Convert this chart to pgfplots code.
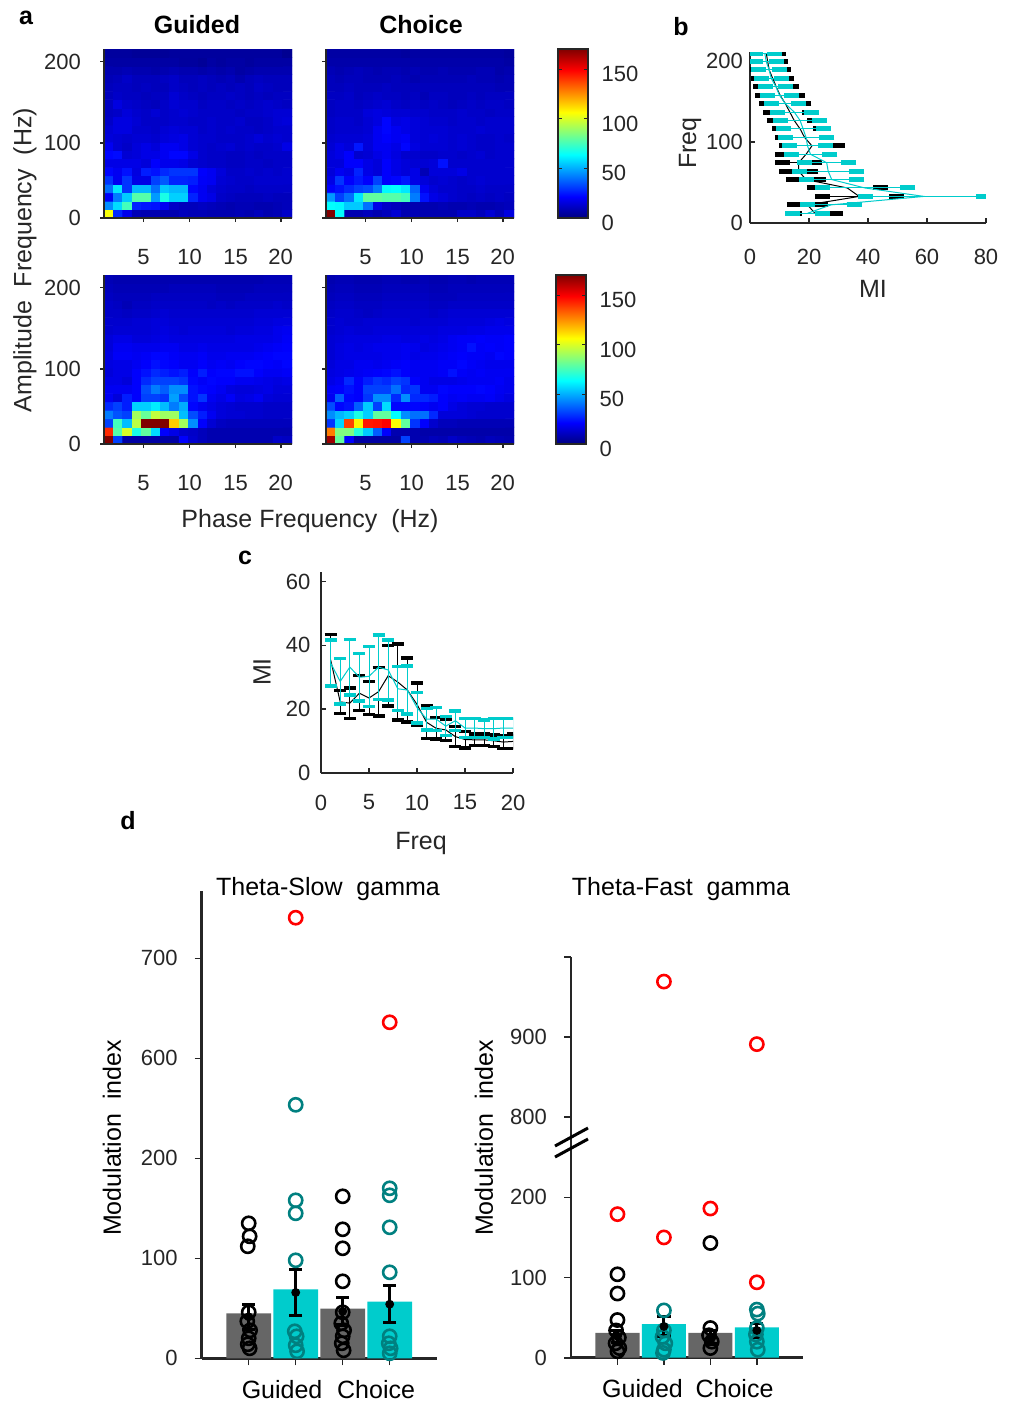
\documentclass[border=0pt]{standalone}
\usepackage{pgfplots}
\pgfplotsset{compat=1.18}
\usepackage{fontspec}
\setmainfont{Liberation Sans}

\definecolor{axc}{HTML}{262626}
\definecolor{cy}{HTML}{00CCCC}
\definecolor{tl}{HTML}{008080}
\definecolor{gbar}{HTML}{666666}

\newcommand{\tickfont}{\fontsize{11}{13}\selectfont}
\newcommand{\labfont}{\fontsize{12.5}{15}\selectfont}

\pgfplotsset{
  /pgf/number format/assume math mode=true,
  tick label style={font=\tickfont, text=axc},
  mlab/.style={
    scale only axis,
    axis x line*=bottom, axis y line*=left,
    axis line style={line width=1.4pt, draw=axc},
    tick style={draw=axc, line width=0.8pt},
    major tick length=2.5pt,
  },
  hm/.style={
    mlab, width=94pt, height=84.5pt,
    xmin=0.5, xmax=20.5, ymin=0.5, ymax=20.5,
    xtick={4.7,9.6,14.5,19.3}, xticklabels={5,10,15,20},
    ytick={0.5,9.4,19}, yticklabels={0,100,200},
    tick align=outside, major tick length=2pt,
    colormap/jet, point meta min=0, point meta max=170,
    axis on top,
    xticklabel style={yshift=-10pt},
    yticklabel style={xshift=-6pt},
  },
  cbar/.style={
    colorbar,
    colorbar style={
      at={(parent axis.north east)}, anchor=north west,
      xshift=#1, width=15pt, scale only axis,
      ytick={0,50,100,150},
      axis line style={line width=1pt, draw=axc},
      tick style={draw=axc},
      major tick length=2pt,
      yticklabel style={xshift=3.3pt, yshift=-2.5pt},
    },
  },
  barax/.style={
    mlab, xmin=0, xmax=5, ymin=0,
    tick align=outside, major tick length=3.5pt,
    xtick={1,2,3,4}, xticklabels={},
    extra x tick style={major tick length=0pt,
      tick label style={font=\labfont, text=black, yshift=-7.5pt}},
    yticklabel style={xshift=-5pt},
    clip=false,
  },
}

\begin{document}
\begin{tikzpicture}
\path[use as bounding box] (0,0) rectangle (504pt,-701.5pt);

% ---------------- panel a, Guided, top
\begin{axis}[hm, at={(52pt,-109pt)}, anchor=south west]
\addplot[matrix plot*, mesh/cols=20, point meta=explicit] coordinates {
(1,1) [105] (2,1) [28] (3,1) [18] (4,1) [9] (5,1) [8] (6,1) [8] (7,1) [8] (8,1) [8] (9,1) [10] (10,1) [9] (11,1) [9] (12,1) [8] (13,1) [8] (14,1) [8] (15,1) [9] (16,1) [8] (17,1) [10] (18,1) [8] (19,1) [9] (20,1) [12]
(1,2) [45] (2,2) [58] (3,2) [75] (4,2) [27] (5,2) [25] (6,2) [24] (7,2) [19] (8,2) [12] (9,2) [10] (10,2) [10] (11,2) [11] (12,2) [10] (13,2) [9] (14,2) [8] (15,2) [9] (16,2) [9] (17,2) [8] (18,2) [8] (19,2) [9] (20,2) [10]
(1,3) [20] (2,3) [42] (3,3) [55] (4,3) [78] (5,3) [78] (6,3) [47] (7,3) [68] (8,3) [56] (9,3) [56] (10,3) [27] (11,3) [19] (12,3) [17] (13,3) [12] (14,3) [11] (15,3) [10] (16,3) [10] (17,3) [10] (18,3) [11] (19,3) [10] (20,3) [10]
(1,4) [40] (2,4) [60] (3,4) [30] (4,4) [52] (5,4) [52] (6,4) [40] (7,4) [55] (8,4) [52] (9,4) [52] (10,4) [22] (11,4) [19] (12,4) [15] (13,4) [13] (14,4) [12] (15,4) [12] (16,4) [11] (17,4) [12] (18,4) [12] (19,4) [12] (20,4) [12]
(1,5) [30] (2,5) [19] (3,5) [30] (4,5) [17] (5,5) [17] (6,5) [32] (7,5) [36] (8,5) [27] (9,5) [27] (10,5) [26] (11,5) [20] (12,5) [19] (13,5) [14] (14,5) [13] (15,5) [12] (16,5) [12] (17,5) [13] (18,5) [13] (19,5) [13] (20,5) [13]
(1,6) [22] (2,6) [19] (3,6) [24] (4,6) [16] (5,6) [26] (6,6) [24] (7,6) [28] (8,6) [30] (9,6) [30] (10,6) [30] (11,6) [21] (12,6) [19] (13,6) [15] (14,6) [12] (15,6) [12] (16,6) [13] (17,6) [12] (18,6) [13] (19,6) [12] (20,6) [13]
(1,7) [17] (2,7) [17] (3,7) [17] (4,7) [17] (5,7) [15] (6,7) [21] (7,7) [18] (8,7) [18] (9,7) [17] (10,7) [14] (11,7) [13] (12,7) [12] (13,7) [12] (14,7) [11] (15,7) [11] (16,7) [12] (17,7) [12] (18,7) [11] (19,7) [12] (20,7) [12]
(1,8) [22] (2,8) [23] (3,8) [14] (4,8) [15] (5,8) [17] (6,8) [17] (7,8) [19] (8,8) [22] (9,8) [22] (10,8) [17] (11,8) [13] (12,8) [12] (13,8) [12] (14,8) [11] (15,8) [11] (16,8) [12] (17,8) [11] (18,8) [12] (19,8) [12] (20,8) [12]
(1,9) [19] (2,9) [14] (3,9) [12] (4,9) [15] (5,9) [17] (6,9) [15] (7,9) [19] (8,9) [19] (9,9) [17] (10,9) [14] (11,9) [13] (12,9) [12] (13,9) [13] (14,9) [14] (15,9) [12] (16,9) [13] (17,9) [12] (18,9) [12] (19,9) [13] (20,9) [17]
(1,10) [15] (2,10) [14] (3,10) [13] (4,10) [14] (5,10) [14] (6,10) [13] (7,10) [15] (8,10) [16] (9,10) [17] (10,10) [14] (11,10) [13] (12,10) [13] (13,10) [12] (14,10) [12] (15,10) [12] (16,10) [13] (17,10) [15] (18,10) [13] (19,10) [14] (20,10) [13]
(1,11) [14] (2,11) [16] (3,11) [16] (4,11) [13] (5,11) [13] (6,11) [12] (7,11) [14] (8,11) [15] (9,11) [14] (10,11) [14] (11,11) [12] (12,11) [13] (13,11) [12] (14,11) [13] (15,11) [12] (16,11) [12] (17,11) [11] (18,11) [12] (19,11) [13] (20,11) [13]
(1,12) [12] (2,12) [16] (3,12) [16] (4,12) [14] (5,12) [12] (6,12) [12] (7,12) [12] (8,12) [13] (9,12) [13] (10,12) [12] (11,12) [12] (12,12) [13] (13,12) [12] (14,12) [12] (15,12) [13] (16,12) [11] (17,12) [11] (18,12) [12] (19,12) [14] (20,12) [15]
(1,13) [11] (2,13) [12] (3,13) [15] (4,13) [13] (5,13) [12] (6,13) [14] (7,13) [12] (8,13) [13] (9,13) [14] (10,13) [13] (11,13) [12] (12,13) [12] (13,13) [12] (14,13) [12] (15,13) [11] (16,13) [12] (17,13) [12] (18,13) [13] (19,13) [14] (20,13) [14]
(1,14) [11] (2,14) [16] (3,14) [13] (4,14) [12] (5,14) [11] (6,14) [10] (7,14) [12] (8,14) [14] (9,14) [13] (10,14) [13] (11,14) [11] (12,14) [12] (13,14) [12] (14,14) [11] (15,14) [12] (16,14) [11] (17,14) [12] (18,14) [13] (19,14) [12] (20,14) [11]
(1,15) [10] (2,15) [12] (3,15) [11] (4,15) [11] (5,15) [10] (6,15) [11] (7,15) [11] (8,15) [14] (9,15) [12] (10,15) [11] (11,15) [10] (12,15) [11] (13,15) [11] (14,15) [12] (15,15) [11] (16,15) [10] (17,15) [11] (18,15) [10] (19,15) [11] (20,15) [11]
(1,16) [10] (2,16) [11] (3,16) [11] (4,16) [10] (5,16) [11] (6,16) [10] (7,16) [10] (8,16) [12] (9,16) [11] (10,16) [10] (11,16) [11] (12,16) [10] (13,16) [11] (14,16) [10] (15,16) [11] (16,16) [10] (17,16) [12] (18,16) [11] (19,16) [10] (20,16) [10]
(1,17) [9] (2,17) [10] (3,17) [12] (4,17) [10] (5,17) [10] (6,17) [10] (7,17) [11] (8,17) [12] (9,17) [10] (10,17) [10] (11,17) [11] (12,17) [10] (13,17) [9] (14,17) [10] (15,17) [8] (16,17) [10] (17,17) [11] (18,17) [10] (19,17) [10] (20,17) [10]
(1,18) [8] (2,18) [8] (3,18) [9] (4,18) [8] (5,18) [8] (6,18) [7] (7,18) [8] (8,18) [9] (9,18) [8] (10,18) [8] (11,18) [7] (12,18) [8] (13,18) [7] (14,18) [8] (15,18) [6] (16,18) [7] (17,18) [8] (18,18) [8] (19,18) [8] (20,18) [8]
(1,19) [6] (2,19) [6] (3,19) [6] (4,19) [6] (5,19) [6] (6,19) [6] (7,19) [6] (8,19) [6] (9,19) [5] (10,19) [5] (11,19) [4] (12,19) [6] (13,19) [5] (14,19) [6] (15,19) [6] (16,19) [5] (17,19) [6] (18,19) [6] (19,19) [6] (20,19) [6]
(1,20) [5] (2,20) [5] (3,20) [5] (4,20) [4] (5,20) [4] (6,20) [4] (7,20) [4] (8,20) [5] (9,20) [5] (10,20) [5] (11,20) [5] (12,20) [5] (13,20) [5] (14,20) [5] (15,20) [5] (16,20) [5] (17,20) [5] (18,20) [5] (19,20) [5] (20,20) [3]
};
\end{axis}

% ---------------- panel a, Choice, top
\begin{axis}[hm, cbar=13.5pt, yticklabels={}, at={(163pt,-109pt)}, anchor=south west]
\addplot[matrix plot*, mesh/cols=20, point meta=explicit] coordinates {
(1,1) [170] (2,1) [64] (3,1) [8] (4,1) [8] (5,1) [10] (6,1) [8] (7,1) [10] (8,1) [14] (9,1) [8] (10,1) [9] (11,1) [8] (12,1) [8] (13,1) [8] (14,1) [8] (15,1) [12] (16,1) [12] (17,1) [10] (18,1) [14] (19,1) [10] (20,1) [16]
(1,2) [64] (2,2) [63] (3,2) [55] (4,2) [55] (5,2) [40] (6,2) [17] (7,2) [12] (8,2) [10] (9,2) [8] (10,2) [8] (11,2) [8] (12,2) [8] (13,2) [9] (14,2) [8] (15,2) [8] (16,2) [9] (17,2) [8] (18,2) [8] (19,2) [9] (20,2) [10]
(1,3) [47] (2,3) [32] (3,3) [40] (4,3) [60] (5,3) [80] (6,3) [80] (7,3) [78] (8,3) [78] (9,3) [75] (10,3) [42] (11,3) [24] (12,3) [17] (13,3) [15] (14,3) [13] (15,3) [12] (16,3) [11] (17,3) [12] (18,3) [11] (19,3) [12] (20,3) [11]
(1,4) [21] (2,4) [24] (3,4) [28] (4,4) [32] (5,4) [34] (6,4) [42] (7,4) [63] (8,4) [64] (9,4) [60] (10,4) [38] (11,4) [19] (12,4) [15] (13,4) [13] (14,4) [13] (15,4) [12] (16,4) [12] (17,4) [13] (18,4) [12] (19,4) [12] (20,4) [12]
(1,5) [17] (2,5) [30] (3,5) [21] (4,5) [25] (5,5) [21] (6,5) [32] (7,5) [21] (8,5) [22] (9,5) [25] (10,5) [17] (11,5) [15] (12,5) [13] (13,5) [14] (14,5) [13] (15,5) [12] (16,5) [13] (17,5) [14] (18,5) [13] (19,5) [13] (20,5) [13]
(1,6) [15] (2,6) [19] (3,6) [17] (4,6) [27] (5,6) [17] (6,6) [15] (7,6) [21] (8,6) [17] (9,6) [15] (10,6) [17] (11,6) [9] (12,6) [15] (13,6) [15] (14,6) [15] (15,6) [17] (16,6) [13] (17,6) [13] (18,6) [13] (19,6) [13] (20,6) [13]
(1,7) [15] (2,7) [15] (3,7) [21] (4,7) [21] (5,7) [17] (6,7) [15] (7,7) [21] (8,7) [17] (9,7) [15] (10,7) [14] (11,7) [14] (12,7) [15] (13,7) [24] (14,7) [13] (15,7) [13] (16,7) [13] (17,7) [13] (18,7) [13] (19,7) [13] (20,7) [13]
(1,8) [15] (2,8) [17] (3,8) [21] (4,8) [13] (5,8) [14] (6,8) [17] (7,8) [19] (8,8) [16] (9,8) [13] (10,8) [13] (11,8) [12] (12,8) [12] (13,8) [13] (14,8) [13] (15,8) [12] (16,8) [13] (17,8) [14] (18,8) [12] (19,8) [13] (20,8) [13]
(1,9) [14] (2,9) [17] (3,9) [15] (4,9) [25] (5,9) [15] (6,9) [19] (7,9) [19] (8,9) [17] (9,9) [22] (10,9) [16] (11,9) [14] (12,9) [14] (13,9) [14] (14,9) [13] (15,9) [14] (16,9) [13] (17,9) [12] (18,9) [12] (19,9) [13] (20,9) [13]
(1,10) [13] (2,10) [14] (3,10) [14] (4,10) [14] (5,10) [15] (6,10) [19] (7,10) [21] (8,10) [19] (9,10) [20] (10,10) [15] (11,10) [14] (12,10) [15] (13,10) [14] (14,10) [13] (15,10) [14] (16,10) [13] (17,10) [12] (18,10) [12] (19,10) [13] (20,10) [12]
(1,11) [12] (2,11) [13] (3,11) [13] (4,11) [13] (5,11) [14] (6,11) [19] (7,11) [22] (8,11) [19] (9,11) [17] (10,11) [15] (11,11) [14] (12,11) [14] (13,11) [14] (14,11) [13] (15,11) [13] (16,11) [13] (17,11) [14] (18,11) [13] (19,11) [13] (20,11) [13]
(1,12) [12] (2,12) [13] (3,12) [13] (4,12) [12] (5,12) [14] (6,12) [16] (7,12) [22] (8,12) [16] (9,12) [17] (10,12) [15] (11,12) [14] (12,12) [13] (13,12) [13] (14,12) [12] (15,12) [13] (16,12) [13] (17,12) [12] (18,12) [13] (19,12) [13] (20,12) [13]
(1,13) [11] (2,13) [12] (3,13) [12] (4,13) [12] (5,13) [15] (6,13) [16] (7,13) [15] (8,13) [14] (9,13) [14] (10,13) [13] (11,13) [13] (12,13) [12] (13,13) [12] (14,13) [12] (15,13) [13] (16,13) [12] (17,13) [12] (18,13) [11] (19,13) [12] (20,13) [12]
(1,14) [11] (2,14) [12] (3,14) [12] (4,14) [11] (5,14) [12] (6,14) [13] (7,14) [14] (8,14) [12] (9,14) [11] (10,14) [12] (11,14) [11] (12,14) [12] (13,14) [11] (14,14) [10] (15,14) [11] (16,14) [12] (17,14) [11] (18,14) [12] (19,14) [12] (20,14) [11]
(1,15) [11] (2,15) [11] (3,15) [12] (4,15) [10] (5,15) [11] (6,15) [12] (7,15) [11] (8,15) [11] (9,15) [10] (10,15) [11] (11,15) [9] (12,15) [11] (13,15) [11] (14,15) [10] (15,15) [10] (16,15) [11] (17,15) [10] (18,15) [11] (19,15) [11] (20,15) [11]
(1,16) [10] (2,16) [10] (3,16) [11] (4,16) [10] (5,16) [10] (6,16) [10] (7,16) [11] (8,16) [10] (9,16) [10] (10,16) [10] (11,16) [10] (12,16) [10] (13,16) [10] (14,16) [10] (15,16) [10] (16,16) [10] (17,16) [10] (18,16) [10] (19,16) [9] (20,16) [9]
(1,17) [10] (2,17) [9] (3,17) [10] (4,17) [10] (5,17) [9] (6,17) [9] (7,17) [9] (8,17) [10] (9,17) [9] (10,17) [8] (11,17) [9] (12,17) [9] (13,17) [9] (14,17) [9] (15,17) [9] (16,17) [10] (17,17) [9] (18,17) [9] (19,17) [8] (20,17) [9]
(1,18) [9] (2,18) [8] (3,18) [9] (4,18) [10] (5,18) [9] (6,18) [8] (7,18) [9] (8,18) [9] (9,18) [8] (10,18) [9] (11,18) [8] (12,18) [8] (13,18) [9] (14,18) [8] (15,18) [8] (16,18) [8] (17,18) [9] (18,18) [9] (19,18) [7] (20,18) [8]
(1,19) [7] (2,19) [7] (3,19) [7] (4,19) [7] (5,19) [7] (6,19) [7] (7,19) [7] (8,19) [7] (9,19) [7] (10,19) [7] (11,19) [7] (12,19) [7] (13,19) [7] (14,19) [7] (15,19) [7] (16,19) [7] (17,19) [7] (18,19) [7] (19,19) [7] (20,19) [6]
(1,20) [6] (2,20) [6] (3,20) [6] (4,20) [6] (5,20) [6] (6,20) [6] (7,20) [6] (8,20) [6] (9,20) [5] (10,20) [6] (11,20) [6] (12,20) [6] (13,20) [6] (14,20) [6] (15,20) [6] (16,20) [6] (17,20) [6] (18,20) [6] (19,20) [6] (20,20) [5]
};
\end{axis}

% ---------------- panel a, Guided, bottom
\begin{axis}[hm, at={(52pt,-222pt)}, anchor=south west]
\addplot[matrix plot*, mesh/cols=20, point meta=explicit] coordinates {
(1,1) [170] (2,1) [32] (3,1) [6] (4,1) [6] (5,1) [6] (6,1) [6] (7,1) [6] (8,1) [6] (9,1) [21] (10,1) [13] (11,1) [10] (12,1) [8] (13,1) [8] (14,1) [8] (15,1) [8] (16,1) [8] (17,1) [8] (18,1) [8] (19,1) [12] (20,1) [11]
(1,2) [142] (2,2) [78] (3,2) [100] (4,2) [68] (5,2) [80] (6,2) [58] (7,2) [21] (8,2) [17] (9,2) [13] (10,2) [12] (11,2) [10] (12,2) [8] (13,2) [8] (14,2) [8] (15,2) [8] (16,2) [8] (17,2) [8] (18,2) [8] (19,2) [8] (20,2) [8]
(1,3) [32] (2,3) [75] (3,3) [53] (4,3) [95] (5,3) [170] (6,3) [170] (7,3) [170] (8,3) [115] (9,3) [91] (10,3) [45] (11,3) [21] (12,3) [14] (13,3) [11] (14,3) [10] (15,3) [10] (16,3) [10] (17,3) [10] (18,3) [10] (19,3) [10] (20,3) [10]
(1,4) [42] (2,4) [35] (3,4) [32] (4,4) [91] (5,4) [81] (6,4) [96] (7,4) [90] (8,4) [90] (9,4) [53] (10,4) [34] (11,4) [26] (12,4) [19] (13,4) [15] (14,4) [14] (15,4) [14] (16,4) [13] (17,4) [13] (18,4) [12] (19,4) [12] (20,4) [12]
(1,5) [28] (2,5) [32] (3,5) [26] (4,5) [56] (5,5) [56] (6,5) [61] (7,5) [53] (8,5) [42] (9,5) [50] (10,5) [22] (11,5) [19] (12,5) [17] (13,5) [15] (14,5) [14] (15,5) [13] (16,5) [13] (17,5) [13] (18,5) [12] (19,5) [12] (20,5) [12]
(1,6) [19] (2,6) [15] (3,6) [26] (4,6) [21] (5,6) [32] (6,6) [32] (7,6) [30] (8,6) [48] (9,6) [34] (10,6) [24] (11,6) [30] (12,6) [19] (13,6) [17] (14,6) [20] (15,6) [16] (16,6) [17] (17,6) [19] (18,6) [15] (19,6) [14] (20,6) [14]
(1,7) [19] (2,7) [19] (3,7) [19] (4,7) [21] (5,7) [34] (6,7) [42] (7,7) [37] (8,7) [45] (9,7) [45] (10,7) [24] (11,7) [22] (12,7) [21] (13,7) [19] (14,7) [16] (15,7) [15] (16,7) [15] (17,7) [16] (18,7) [17] (19,7) [15] (20,7) [15]
(1,8) [17] (2,8) [17] (3,8) [15] (4,8) [21] (5,8) [28] (6,8) [32] (7,8) [32] (8,8) [32] (9,8) [30] (10,8) [22] (11,8) [20] (12,8) [22] (13,8) [21] (14,8) [21] (15,8) [19] (16,8) [19] (17,8) [18] (18,8) [17] (19,8) [16] (20,8) [17]
(1,9) [15] (2,9) [17] (3,9) [17] (4,9) [21] (5,9) [24] (6,9) [28] (7,9) [26] (8,9) [24] (9,9) [26] (10,9) [21] (11,9) [26] (12,9) [21] (13,9) [22] (14,9) [22] (15,9) [24] (16,9) [24] (17,9) [21] (18,9) [19] (19,9) [19] (20,9) [20]
(1,10) [16] (2,10) [17] (3,10) [17] (4,10) [19] (5,10) [21] (6,10) [24] (7,10) [22] (8,10) [21] (9,10) [19] (10,10) [19] (11,10) [21] (12,10) [19] (13,10) [20] (14,10) [19] (15,10) [21] (16,10) [22] (17,10) [22] (18,10) [21] (19,10) [20] (20,10) [22]
(1,11) [16] (2,11) [20] (3,11) [20] (4,11) [19] (5,11) [20] (6,11) [22] (7,11) [22] (8,11) [20] (9,11) [19] (10,11) [19] (11,11) [20] (12,11) [18] (13,11) [18] (14,11) [19] (15,11) [19] (16,11) [19] (17,11) [20] (18,11) [21] (19,11) [22] (20,11) [22]
(1,12) [15] (2,12) [19] (3,12) [19] (4,12) [18] (5,12) [18] (6,12) [18] (7,12) [19] (8,12) [19] (9,12) [17] (10,12) [17] (11,12) [18] (12,12) [17] (13,12) [17] (14,12) [17] (15,12) [17] (16,12) [17] (17,12) [18] (18,12) [19] (19,12) [20] (20,12) [21]
(1,13) [15] (2,13) [17] (3,13) [17] (4,13) [15] (5,13) [15] (6,13) [16] (7,13) [17] (8,13) [16] (9,13) [16] (10,13) [16] (11,13) [16] (12,13) [16] (13,13) [16] (14,13) [16] (15,13) [17] (16,13) [17] (17,13) [17] (18,13) [17] (19,13) [18] (20,13) [20]
(1,14) [13] (2,14) [14] (3,14) [14] (4,14) [14] (5,14) [14] (6,14) [15] (7,14) [16] (8,14) [15] (9,14) [14] (10,14) [15] (11,14) [15] (12,14) [15] (13,14) [15] (14,14) [14] (15,14) [15] (16,14) [15] (17,14) [16] (18,14) [16] (19,14) [18] (20,14) [19]
(1,15) [13] (2,15) [13] (3,15) [13] (4,15) [14] (5,15) [14] (6,15) [15] (7,15) [15] (8,15) [14] (9,15) [14] (10,15) [14] (11,15) [14] (12,15) [14] (13,15) [14] (14,15) [14] (15,15) [14] (16,15) [14] (17,15) [15] (18,15) [15] (19,15) [16] (20,15) [16]
(1,16) [12] (2,16) [12] (3,16) [11] (4,16) [12] (5,16) [12] (6,16) [13] (7,16) [14] (8,16) [13] (9,16) [13] (10,16) [13] (11,16) [13] (12,16) [13] (13,16) [13] (14,16) [13] (15,16) [13] (16,16) [13] (17,16) [14] (18,16) [14] (19,16) [14] (20,16) [14]
(1,17) [12] (2,17) [11] (3,17) [9] (4,17) [11] (5,17) [11] (6,17) [12] (7,17) [12] (8,17) [12] (9,17) [12] (10,17) [12] (11,17) [12] (12,17) [11] (13,17) [12] (14,17) [11] (15,17) [12] (16,17) [12] (17,17) [12] (18,17) [12] (19,17) [13] (20,17) [12]
(1,18) [11] (2,18) [10] (3,18) [10] (4,18) [10] (5,18) [10] (6,18) [11] (7,18) [11] (8,18) [11] (9,18) [11] (10,18) [11] (11,18) [11] (12,18) [11] (13,18) [10] (14,18) [10] (15,18) [10] (16,18) [11] (17,18) [11] (18,18) [11] (19,18) [11] (20,18) [11]
(1,19) [10] (2,19) [9] (3,19) [9] (4,19) [9] (5,19) [9] (6,19) [9] (7,19) [9] (8,19) [10] (9,19) [10] (10,19) [10] (11,19) [10] (12,19) [10] (13,19) [9] (14,19) [9] (15,19) [9] (16,19) [9] (17,19) [10] (18,19) [10] (19,19) [10] (20,19) [10]
(1,20) [9] (2,20) [8] (3,20) [8] (4,20) [8] (5,20) [8] (6,20) [8] (7,20) [8] (8,20) [8] (9,20) [8] (10,20) [8] (11,20) [8] (12,20) [8] (13,20) [8] (14,20) [8] (15,20) [8] (16,20) [8] (17,20) [8] (18,20) [9] (19,20) [9] (20,20) [9]
};
\end{axis}

% ---------------- panel a, Choice, bottom
\begin{axis}[hm, cbar=12.5pt, yticklabels={}, at={(163pt,-222pt)}, anchor=south west]
\addplot[matrix plot*, mesh/cols=20, point meta=explicit] coordinates {
(1,1) [165] (2,1) [80] (3,1) [21] (4,1) [6] (5,1) [6] (6,1) [6] (7,1) [6] (8,1) [6] (9,1) [32] (10,1) [8] (11,1) [8] (12,1) [10] (13,1) [9] (14,1) [12] (15,1) [10] (16,1) [9] (17,1) [8] (18,1) [10] (19,1) [9] (20,1) [8]
(1,2) [128] (2,2) [85] (3,2) [85] (4,2) [70] (5,2) [55] (6,2) [37] (7,2) [21] (8,2) [8] (9,2) [8] (10,2) [8] (11,2) [7] (12,2) [7] (13,2) [7] (14,2) [7] (15,2) [7] (16,2) [7] (17,2) [7] (18,2) [7] (19,2) [7] (20,2) [7]
(1,3) [30] (2,3) [57] (3,3) [138] (4,3) [108] (5,3) [145] (6,3) [146] (7,3) [149] (8,3) [106] (9,3) [80] (10,3) [30] (11,3) [21] (12,3) [13] (13,3) [10] (14,3) [10] (15,3) [9] (16,3) [9] (17,3) [9] (18,3) [9] (19,3) [9] (20,3) [9]
(1,4) [45] (2,4) [52] (3,4) [56] (4,4) [68] (5,4) [56] (6,4) [80] (7,4) [80] (8,4) [64] (9,4) [45] (10,4) [40] (11,4) [40] (12,4) [28] (13,4) [15] (14,4) [15] (15,4) [15] (16,4) [14] (17,4) [13] (18,4) [13] (19,4) [13] (20,4) [13]
(1,5) [34] (2,5) [22] (3,5) [24] (4,5) [37] (5,5) [55] (6,5) [32] (7,5) [58] (8,5) [22] (9,5) [22] (10,5) [22] (11,5) [21] (12,5) [19] (13,5) [21] (14,5) [17] (15,5) [15] (16,5) [14] (17,5) [14] (18,5) [13] (19,5) [13] (20,5) [13]
(1,6) [19] (2,6) [37] (3,6) [22] (4,6) [21] (5,6) [30] (6,6) [45] (7,6) [45] (8,6) [28] (9,6) [45] (10,6) [28] (11,6) [28] (12,6) [26] (13,6) [21] (14,6) [19] (15,6) [20] (16,6) [19] (17,6) [19] (18,6) [20] (19,6) [18] (20,6) [16]
(1,7) [20] (2,7) [21] (3,7) [24] (4,7) [21] (5,7) [32] (6,7) [32] (7,7) [32] (8,7) [40] (9,7) [28] (10,7) [30] (11,7) [19] (12,7) [19] (13,7) [22] (14,7) [21] (15,7) [21] (16,7) [21] (17,7) [22] (18,7) [21] (19,7) [19] (20,7) [18]
(1,8) [17] (2,8) [19] (3,8) [28] (4,8) [21] (5,8) [26] (6,8) [30] (7,8) [28] (8,8) [32] (9,8) [30] (10,8) [21] (11,8) [19] (12,8) [17] (13,8) [17] (14,8) [17] (15,8) [18] (16,8) [19] (17,8) [19] (18,8) [19] (19,8) [20] (20,8) [18]
(1,9) [16] (2,9) [17] (3,9) [18] (4,9) [19] (5,9) [20] (6,9) [21] (7,9) [22] (8,9) [24] (9,9) [21] (10,9) [19] (11,9) [19] (12,9) [19] (13,9) [20] (14,9) [24] (15,9) [20] (16,9) [19] (17,9) [20] (18,9) [19] (19,9) [19] (20,9) [19]
(1,10) [15] (2,10) [17] (3,10) [17] (4,10) [19] (5,10) [19] (6,10) [18] (7,10) [19] (8,10) [20] (9,10) [21] (10,10) [19] (11,10) [19] (12,10) [19] (13,10) [20] (14,10) [20] (15,10) [22] (16,10) [20] (17,10) [19] (18,10) [18] (19,10) [18] (20,10) [18]
(1,11) [14] (2,11) [16] (3,11) [17] (4,11) [17] (5,11) [17] (6,11) [17] (7,11) [18] (8,11) [18] (9,11) [19] (10,11) [17] (11,11) [18] (12,11) [18] (13,11) [19] (14,11) [20] (15,11) [21] (16,11) [20] (17,11) [20] (18,11) [19] (19,11) [22] (20,11) [21]
(1,12) [14] (2,12) [16] (3,12) [17] (4,12) [16] (5,12) [17] (6,12) [18] (7,12) [18] (8,12) [18] (9,12) [19] (10,12) [18] (11,12) [16] (12,12) [17] (13,12) [18] (14,12) [19] (15,12) [20] (16,12) [24] (17,12) [20] (18,12) [21] (19,12) [20] (20,12) [21]
(1,13) [14] (2,13) [15] (3,13) [16] (4,13) [16] (5,13) [16] (6,13) [16] (7,13) [17] (8,13) [17] (9,13) [16] (10,13) [16] (11,13) [17] (12,13) [16] (13,13) [17] (14,13) [19] (15,13) [20] (16,13) [20] (17,13) [21] (18,13) [20] (19,13) [20] (20,13) [21]
(1,14) [13] (2,14) [14] (3,14) [15] (4,14) [14] (5,14) [14] (6,14) [15] (7,14) [15] (8,14) [15] (9,14) [15] (10,14) [15] (11,14) [15] (12,14) [15] (13,14) [16] (14,14) [16] (15,14) [16] (16,14) [17] (17,14) [17] (18,14) [18] (19,14) [18] (20,14) [18]
(1,15) [13] (2,15) [14] (3,15) [13] (4,15) [13] (5,15) [14] (6,15) [14] (7,15) [14] (8,15) [14] (9,15) [14] (10,15) [13] (11,15) [14] (12,15) [14] (13,15) [14] (14,15) [15] (15,15) [15] (16,15) [15] (17,15) [15] (18,15) [16] (19,15) [17] (20,15) [16]
(1,16) [12] (2,16) [13] (3,16) [13] (4,16) [12] (5,16) [11] (6,16) [12] (7,16) [13] (8,16) [13] (9,16) [13] (10,16) [13] (11,16) [13] (12,16) [12] (13,16) [13] (14,16) [14] (15,16) [14] (16,16) [14] (17,16) [14] (18,16) [14] (19,16) [14] (20,16) [14]
(1,17) [11] (2,17) [12] (3,17) [12] (4,17) [11] (5,17) [11] (6,17) [11] (7,17) [12] (8,17) [12] (9,17) [12] (10,17) [12] (11,17) [12] (12,17) [11] (13,17) [11] (14,17) [12] (15,17) [12] (16,17) [12] (17,17) [12] (18,17) [12] (19,17) [12] (20,17) [12]
(1,18) [10] (2,18) [11] (3,18) [11] (4,18) [10] (5,18) [10] (6,18) [10] (7,18) [11] (8,18) [11] (9,18) [11] (10,18) [11] (11,18) [11] (12,18) [10] (13,18) [10] (14,18) [10] (15,18) [11] (16,18) [11] (17,18) [11] (18,18) [11] (19,18) [11] (20,18) [11]
(1,19) [9] (2,19) [10] (3,19) [10] (4,19) [9] (5,19) [9] (6,19) [9] (7,19) [10] (8,19) [10] (9,19) [10] (10,19) [10] (11,19) [10] (12,19) [9] (13,19) [9] (14,19) [10] (15,19) [10] (16,19) [10] (17,19) [10] (18,19) [10] (19,19) [10] (20,19) [10]
(1,20) [8] (2,20) [9] (3,20) [9] (4,20) [8] (5,20) [8] (6,20) [8] (7,20) [9] (8,20) [9] (9,20) [8] (10,20) [8] (11,20) [9] (12,20) [8] (13,20) [8] (14,20) [9] (15,20) [9] (16,20) [8] (17,20) [9] (18,20) [9] (19,20) [9] (20,20) [9]
};
\end{axis}

% ---------------- panel b
\begin{axis}[mlab, at={(375pt,-111.5pt)}, anchor=south west,
  width=118pt, height=85.5pt,
  xmin=0, xmax=80, ymin=0, ymax=211,
  xtick={0,20,40,60,80}, ytick={0,100,200},
  xticklabel style={yshift=-9.3pt},
]
\addplot[black, line width=0.5pt,
  error bars/.cd, x dir=both, x explicit, error mark=-,
  error mark options={black, line width=2.5pt, mark size=3.75pt},
  error bar style={black, line width=0.5pt}]
coordinates {
(22,12) +- (7,0) (19.5,22.4) +- (4.5,0) (37,32.8) +- (12.5,0) (33,43.2) +- (11.3,0)
(19,53.6) +- (4.3,0) (16.5,64) +- (4.1,0) (16.5,74.4) +- (5.5,0) (19,84.8) +- (8,0)
(21,95.2) +- (8.5,0) (18.5,105.6) +- (7.5,0) (17,116) +- (7,0) (15,126.4) +- (6.8,0)
(13.5,136.8) +- (6.5,0) (12,147.2) +- (6.3,0) (10.2,157.6) +- (5.9,0) (8.9,168) +- (5.2,0)
(7.7,178.4) +- (4.8,0) (6.5,188.8) +- (4.8,0) (6,199.2) +- (4.3,0) (5.5,209.6) +- (4,0)
};
\addplot[cy, line width=0.5pt,
  error bars/.cd, x dir=both, x explicit, error mark=-,
  error mark options={cy, line width=2.5pt, mark size=3.75pt},
  error bar style={cy, line width=0.5pt}]
coordinates {
(19.5,12) +- (5,0) (27.5,22.4) +- (8,0) (59,32.8) +- (20,0) (39,43.2) +- (14.5,0)
(27.7,53.6) +- (8.5,0) (26.5,64) +- (9.7,0) (26,74.4) +- (7.5,0) (20.5,84.8) +- (6.5,0)
(19.5,95.2) +- (6,0) (19,105.6) +- (7,0) (18,116) +- (6.8,0) (17,126.4) +- (6.5,0)
(15,136.8) +- (5.8,0) (12,147.2) +- (4.6,0) (10,157.6) +- (4.2,0) (8.8,168) +- (3.4,0)
(7.2,178.4) +- (3.4,0) (6.5,188.8) +- (3.5,0) (5.5,199.2) +- (3.5,0) (5,209.6) +- (3.3,0)
};
\end{axis}

% ---------------- panel c
\begin{axis}[mlab, at={(160.5pt,-386.5pt)}, anchor=south west,
  width=96pt, height=100.5pt,
  xmin=0, xmax=20, ymin=0, ymax=63,
  xtick={0,5,10,15,20}, ytick={0,20,40,60},
  xticklabel style={yshift=-7.3pt},
  yticklabel style={xshift=-1.8pt},
]
\addplot[black, line width=0.5pt,
  error bars/.cd, y dir=both, y explicit, error mark=|,
  error mark options={black, line width=1.7pt, mark size=3pt},
  error bar style={black, line width=0.5pt}]
coordinates {
(1,35.5) +- (0,8) (2,22.3) +- (0,3.6) (3,21.9) +- (0,4.8) (4,25) +- (0,5.5)
(5,23.5) +- (0,5.1) (6,25.5) +- (0,7.6) (7,30.5) +- (0,9.5) (8,28.5) +- (0,11.9)
(9,26) +- (0,10) (10,21.5) +- (0,6.7) (11,15.9) +- (0,5.1) (12,14) +- (0,3.4)
(13,13.5) +- (0,3.4) (14,11.4) +- (0,3.1) (15,10.5) +- (0,2.6) (16,10.4) +- (0,1.8)
(17,10.4) +- (0,1.8) (18,10.1) +- (0,1.8) (19,9.7) +- (0,2.1) (20,9.9) +- (0,2.3)
};
\addplot[cy, line width=0.5pt,
  error bars/.cd, y dir=both, y explicit, error mark=|,
  error mark options={cy, line width=1.7pt, mark size=3pt},
  error bar style={cy, line width=0.5pt}]
coordinates {
(1,34.5) +- (0,7.2) (2,28.7) +- (0,7.1) (3,33.2) +- (0,8.7) (4,30) +- (0,7.4)
(5,30.3) +- (0,9.4) (6,33.2) +- (0,10.1) (7,32.3) +- (0,9.4) (8,26.4) +- (0,6.9)
(9,26) +- (0,7.5) (10,20.5) +- (0,4.8) (11,16.9) +- (0,3.4) (12,16.9) +- (0,3.6)
(13,14.7) +- (0,3) (14,16.4) +- (0,3.1) (15,14.1) +- (0,3) (16,14.1) +- (0,3)
(17,13.9) +- (0,2.7) (18,13.9) +- (0,3.2) (19,14.1) +- (0,3) (20,14.1) +- (0,3)
};
\end{axis}

% ---------------- panel d, theta-slow gamma (y axis broken: 600 and 700 drawn 300 lower)
\begin{axis}[barax, at={(100.85pt,-679.15pt)}, anchor=south west,
  width=117.5pt, height=233.8pt, ymax=467.6,
  ytick={0,100,200,300,400}, yticklabels={0,100,200,600,700},
  extra x ticks={1.71,3.71}, extra x tick labels={Guided,Choice},
]
\addplot[ybar, bar width=0.95, bar shift=0pt, fill=gbar, draw=none] coordinates {(1,45) (3,49.6)};
\addplot[ybar, bar width=0.95, bar shift=0pt, fill=cy, draw=none] coordinates {(2,69) (4,56.6)};
\addplot[only marks, mark=o, mark size=3.3pt, mark options={black, line width=1.3pt}] coordinates {
(1,135) (1.02,122) (0.98,112) (1,46) (0.97,37) (1.03,28) (1,20) (0.98,14) (1.02,10)
(3,162) (3,129) (3,110) (3,77) (3,46) (2.97,35) (3.03,28) (3,22) (2.98,15) (3.02,8)
};
\addplot[only marks, mark=o, mark size=3.3pt, mark options={tl, line width=1.3pt}] coordinates {
(2,158) (2,145) (2,98) (2,253.5) (1.98,27) (2.02,22) (2,13) (2.03,7)
(4,170) (4,163) (4,131) (4,86) (4,22) (3.98,15) (4.02,10) (4,5)
};
\addplot[only marks, mark=o, mark size=3.3pt, mark options={red, line width=1.3pt}] coordinates {
(2,440.6) (4,336)
};
\addplot[only marks, mark=*, mark size=2pt, black,
  error bars/.cd, y dir=both, y explicit, error mark=|,
  error mark options={black, line width=1.6pt, mark size=3.3pt},
  error bar style={black, line width=1.5pt}]
coordinates {(1,41.5) +- (0,12.5) (2,65.8) +- (0,23) (3,47) +- (0,13.7) (4,54.1) +- (0,18.5)};
\end{axis}

% ---------------- panel d, theta-fast gamma (y axis broken: 800 to 1000 drawn 500 lower)
\begin{axis}[barax, at={(285.5pt,-678.85pt)}, anchor=south west,
  width=116.15pt, height=200.5pt, ymax=500,
  ytick={0,100,200,300,400,500}, yticklabels={0,100,200,800,900,{}},
  extra x ticks={1.54,3.52}, extra x tick labels={Guided,Choice},
]
\addplot[ybar, bar width=0.95, bar shift=0pt, fill=gbar, draw=none] coordinates {(1,31) (3,31)};
\addplot[ybar, bar width=0.95, bar shift=0pt, fill=cy, draw=none] coordinates {(2,41.9) (4,37.8)};
\addplot[only marks, mark=o, mark size=3.3pt, mark options={black, line width=1.3pt}] coordinates {
(1,104) (1,80) (1,47) (0.97,34) (1.03,25) (0.96,18) (1.04,12) (1,8)
(3,143) (3,37) (2.97,28) (3.03,20) (3,12)
};
\addplot[only marks, mark=o, mark size=3.3pt, mark options={tl, line width=1.3pt}] coordinates {
(2,59) (2,34) (1.97,26) (2.03,18) (2,10) (1.98,6)
(4,60) (4.02,55) (4,37) (3.98,29) (4,20) (4.02,10)
};
\addplot[only marks, mark=o, mark size=3.3pt, mark options={red, line width=1.3pt}] coordinates {
(1,179) (2,150) (2,469) (3,186) (4,94) (4,391)
};
\addplot[only marks, mark=*, mark size=2pt, black,
  error bars/.cd, y dir=both, y explicit, error mark=|,
  error mark options={black, line width=1.6pt, mark size=3.3pt},
  error bar style={black, line width=1.5pt}]
coordinates {(1,26.7) +- (0,7.6) (2,39) +- (0,12) (3,25.7) +- (0,8.7) (4,34) +- (0,8.7)};
\end{axis}

% axis break mark
\draw[black, line width=1.5pt] (277.5pt,-573pt) -- (294pt,-564pt);
\draw[black, line width=1.5pt] (277.5pt,-578.5pt) -- (294pt,-569.5pt);

% ---------------- text
\node[font=\bfseries\labfont] at (13pt,-9pt) {a};
\node[font=\bfseries\labfont] at (340.5pt,-13.5pt) {b};
\node[font=\bfseries\labfont] at (122.5pt,-279pt) {c};
\node[font=\bfseries\labfont] at (64pt,-410.5pt) {d};
\node[font=\bfseries\labfont] at (98.5pt,-12.5pt) {Guided};
\node[font=\bfseries\labfont] at (210.5pt,-12.5pt) {Choice};
\node[font=\labfont, text=axc, rotate=90] at (12.5pt,-130pt) {Amplitude\ \ Frequency\ \ (Hz)};
\node[font=\labfont, text=axc] at (155pt,-260.5pt) {Phase Frequency\ \ (Hz)};
\node[font=\labfont, text=axc, rotate=90] at (345pt,-71.5pt) {Freq};
\node[font=\labfont, text=axc] at (436.5pt,-144.5pt) {MI};
\node[font=\labfont, text=axc, rotate=90] at (131pt,-336pt) {MI};
\node[font=\labfont, text=axc] at (210.5pt,-421.5pt) {Freq};
\node[font=\labfont] at (164pt,-444.5pt) {Theta-Slow\ \ gamma};
\node[font=\labfont] at (340.5pt,-444.5pt) {Theta-Fast\ \ gamma};
\node[font=\labfont, rotate=90] at (56pt,-569pt) {Modulation\ \ index};
\node[font=\labfont, rotate=90] at (242pt,-569pt) {Modulation\ \ index};
\end{tikzpicture}
\end{document}
